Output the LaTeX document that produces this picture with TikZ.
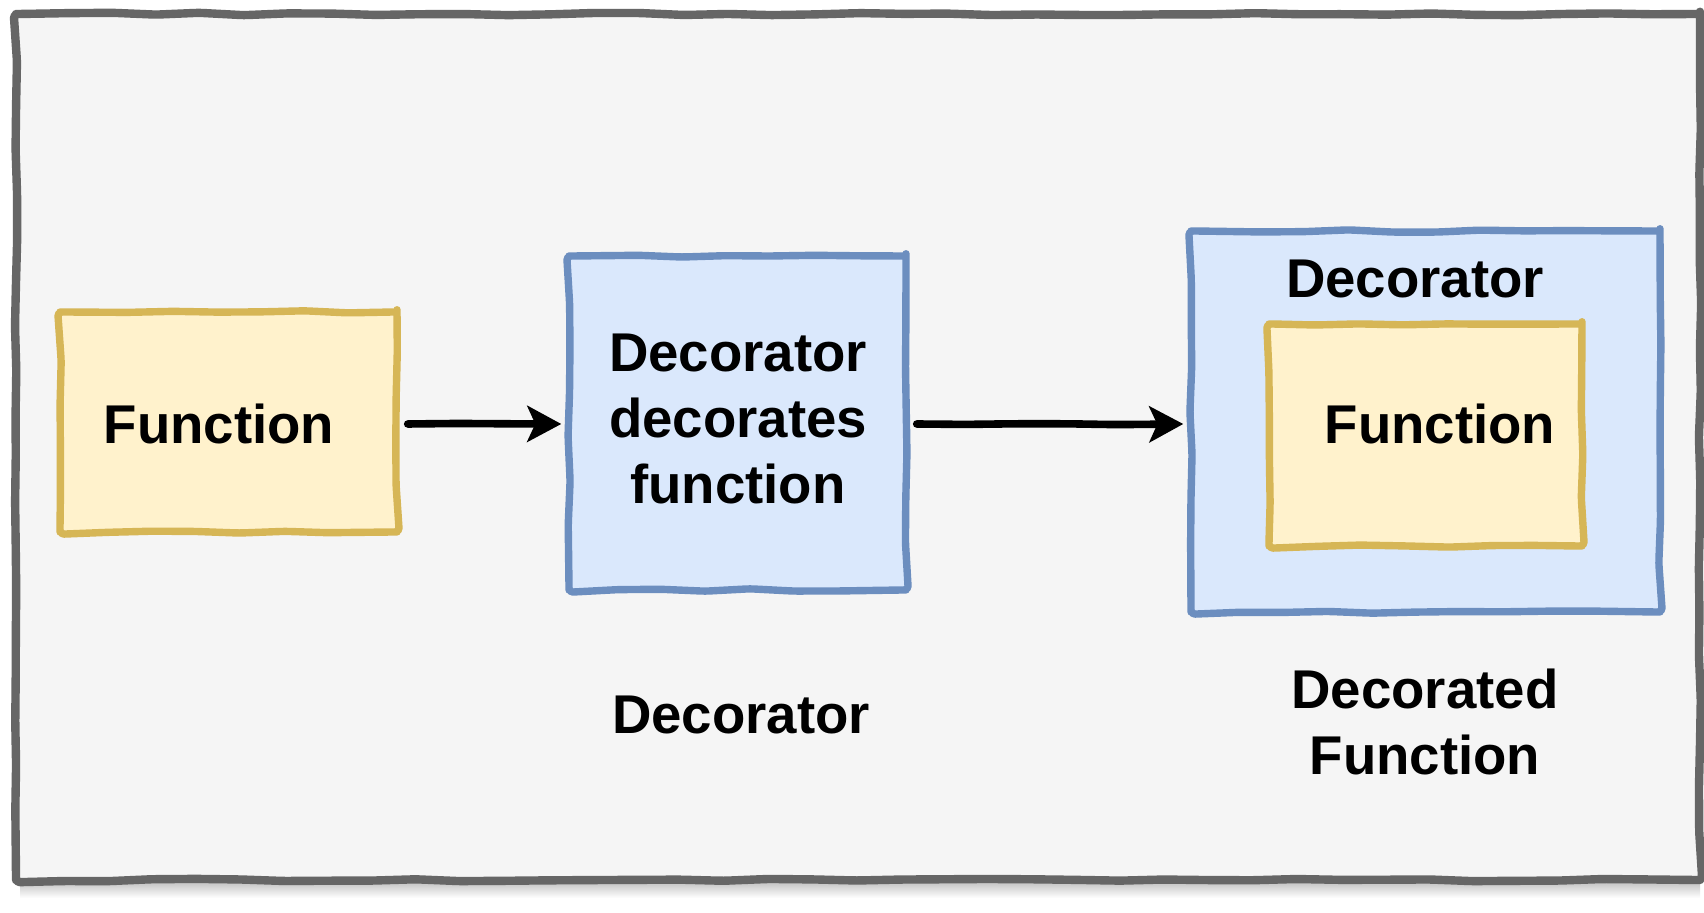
\documentclass[tikz,border=0pt]{standalone}
\usepackage{fontspec}
\setmainfont{Liberation Sans}
\usetikzlibrary{arrows.meta,decorations.pathmorphing}
\definecolor{framefill}{HTML}{F5F5F5}
\definecolor{framedraw}{HTML}{666666}
\definecolor{fnfill}{HTML}{FFF2CC}
\definecolor{fndraw}{HTML}{D6B656}
\definecolor{decfill}{HTML}{DAE8FC}
\definecolor{decdraw}{HTML}{6C8EBF}
\pgfmathsetseed{7}
\begin{document}
\begin{tikzpicture}[x=0.5pt,y=-0.5pt,
  sketch/.style={decorate,decoration={random steps,segment length=22pt,amplitude=0.6pt},
    rounded corners=2pt,line cap=round,line join=round},
  fnbox/.style={sketch,draw=fndraw,fill=fnfill,line width=3.7pt,inner sep=0pt,rectangle},
  decbox/.style={sketch,draw=decdraw,fill=decfill,line width=3.7pt,inner sep=0pt,rectangle},
  txt/.style={font=\fontsize{27.3}{33}\selectfont\bfseries,align=center,inner sep=0pt},
  flow/.style={line width=3.8pt,line cap=round,-{Stealth[length=17pt,width=18pt,inset=4pt]},
    decorate,decoration={random steps,segment length=25pt,amplitude=0.4pt},rounded corners=6pt}]
  % page
  \useasboundingbox (0,0) rectangle (1704,913);
  \fill[white] (0,0) rectangle (1704,913);
  % soft shadow under the frame
  \shade[top color=black!25,bottom color=white] (20,881) rectangle (1700,898);
  % frame
  \node[sketch,draw=framedraw,fill=framefill,line width=4.2pt,inner sep=0pt,
        minimum width=842pt,minimum height=433pt] (frame) at (858,447) {};

  % plain function
  \node[fnbox,minimum width=168.5pt,minimum height=110pt] (fn) at (228.5,422) {};
  \node[txt] (fntext) at (219,424) {Function};

  % decorator
  \node[decbox,minimum width=168.5pt,minimum height=167pt] (dec) at (737.5,423) {};
  \node[txt] (dectext) at (738,419) {Decorator\\decorates\\function};

  % decorated function
  \node[decbox,minimum width=234.5pt,minimum height=190.5pt] (decd) at (1425.5,421.5) {};
  \node[txt] (decdtext) at (1415,279) {Decorator};
  \node[fnbox,minimum width=156.5pt,minimum height=111pt] (inner) at (1425.5,435) {};
  \node[txt] (innertext) at (1440,424) {Function};

  % captions
  \node[txt] (cap1) at (741,715) {Decorator};
  \node[txt] (cap2) at (1425,722) {Decorated\\Function};

  % connectors
  \draw[flow] (fn.east |- 0,424) ++(7,0) coordinate (a1) -- ([xshift=-2]dec.west |- 0,424);
  \draw[flow] (dec.east |- 0,424) ++(7,0) coordinate (a2) -- ([xshift=-2]decd.west |- 0,424);
\end{tikzpicture}
\end{document}
